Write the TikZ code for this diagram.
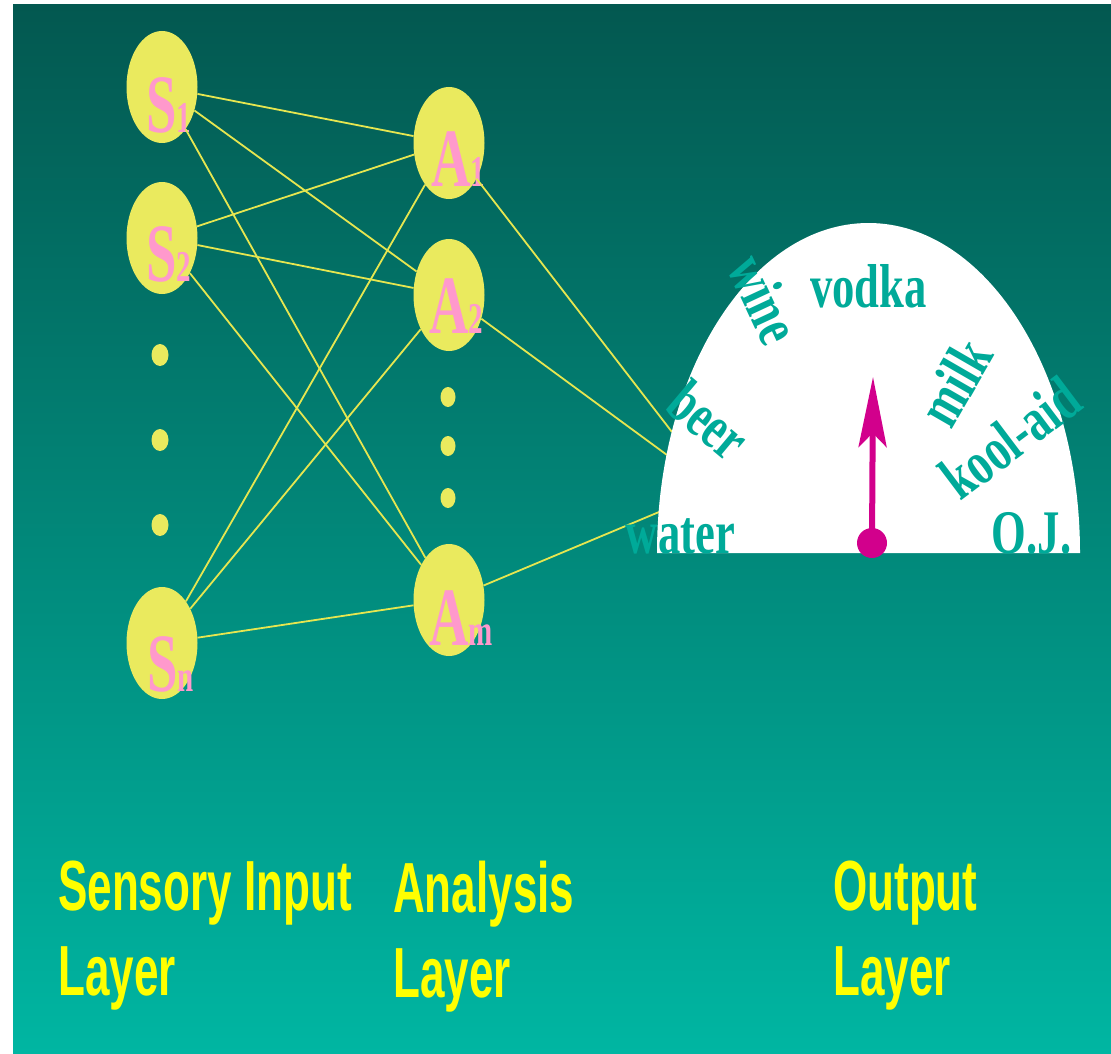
\documentclass[tikz,border=0pt]{standalone}
\usepackage{fontspec}
\usetikzlibrary{shapes.geometric,arrows.meta}
\newfontfamily\layerfont[FakeStretch=0.62]{Liberation Sans}
\newfontfamily\unitfont[FakeStretch=0.66]{Liberation Serif}
\newfontfamily\dialfont[FakeStretch=0.72]{Liberation Serif}
\definecolor{bgtop}{RGB}{3,88,80}
\definecolor{bgbot}{RGB}{0,182,162}
\definecolor{unitfill}{RGB}{234,234,94}
\definecolor{wirecol}{RGB}{230,230,80}
\definecolor{unitpink}{RGB}{255,153,204}
\definecolor{layeryellow}{RGB}{255,255,0}
\definecolor{drinkteal}{RGB}{0,170,153}
\definecolor{needlecol}{RGB}{210,0,140}
\begin{document}
\begin{tikzpicture}[x=1pt,y=-1pt,
  unit/.style={ellipse, fill=unitfill, minimum width=71pt, minimum height=112pt, inner sep=0pt},
  bigdot/.style={ellipse, fill=unitfill, minimum width=17pt, minimum height=22pt, inner sep=0pt},
  smalldot/.style={ellipse, fill=unitfill, minimum width=15pt, minimum height=20pt, inner sep=0pt},
  wire/.style={draw=wirecol, line width=1.8pt},
  unitlbl/.style={anchor=base west, inner sep=0pt, text=unitpink, font={\unitfont\bfseries\fontsize{83}{83}\selectfont}},
  drink/.style={text=drinkteal, inner sep=0pt, font={\dialfont\bfseries\fontsize{62}{62}\selectfont}},
  layerlbl/.style={anchor=north west, inner sep=0pt, align=left, text=layeryellow, font={\layerfont\bfseries\fontsize{71}{85}\selectfont}},
  needle/.style={draw=needlecol, line width=6pt, -{Stealth[length=70pt, width=28pt, inset=14pt]}}
]
\newcommand\sub[1]{{\fontsize{44}{44}\selectfont #1}}
\useasboundingbox (0,0) rectangle (1111,1054);
% backdrop
\fill[white] (0,0) rectangle (1111,1054);
\shade[top color=bgtop, bottom color=bgbot] (13,5) rectangle (1111,1054);

% sensory input units
\node[unit] (s1) at (162,87) {};
\node[unit] (s2) at (162,238) {};
\node[unit] (sn) at (162,643) {};
\node[bigdot] (sd1) at (160,355) {};
\node[bigdot] (sd2) at (160,440) {};
\node[bigdot] (sd3) at (160,525) {};

% analysis units
\node[unit] (a1) at (449,143) {};
\node[unit] (a2) at (449,295) {};
\node[unit] (am) at (449,600) {};
\node[smalldot] (ad1) at (448,397) {};
\node[smalldot] (ad2) at (448,446) {};
\node[smalldot] (ad3) at (448,498) {};

% unit labels
\node[unitlbl] (ls1) at (146,132) {S\sub{1}};
\node[unitlbl] (ls2) at (146,281) {S\sub{2}};
\node[unitlbl] (lsn) at (147,691) {S\sub{n}};
\node[unitlbl] (la1) at (431,186) {A\sub{1}};
\node[unitlbl] (la2) at (429,333) {A\sub{2}};
\node[unitlbl] (lam) at (429,645) {A\sub{m}};

% input -> analysis connections
\foreach \s in {s1,s2,sn}
  \foreach \a in {a1,a2,am}
    \draw[wire] (\s) -- (\a);

% analysis -> output connections end on the dial rim
\coordinate (r1) at (672,432);
\coordinate (r2) at (667,455);
\coordinate (r3) at (659,512);
\draw[wire] (a1) -- (r1);
\draw[wire] (a2) -- (r2);
\draw[wire] (am) -- (r3);

% output dial
\fill[white] (657,553) arc[start angle=180, end angle=0, x radius=211.5pt, y radius=330pt] -- cycle;
\node[drink, anchor=base] (vodka) at (868.5,307) {vodka};
\node[drink, anchor=base] (oj) at (1031.5,553) {O.J.};
\node[drink, anchor=base] (water) at (680.5,553) {water};
\node[drink, rotate=-65] (wine) at (765,299) {wine};
\node[drink, rotate=-40] (beer) at (709,420) {beer};
\node[drink, rotate=60] (milk) at (955,382) {milk};
\node[drink, rotate=37] (koolaid) at (1010,438) {kool-aid};

% pointer
\coordinate (pivot) at (872,543);
\coordinate (tip) at (873,377);
\draw[needle] (pivot) -- (tip);
\fill[needlecol] (pivot) circle[radius=15pt];

% layer captions
\node[layerlbl] (capin) at (58,861) {Sensory Input\\Layer};
\node[layerlbl] (capan) at (393,861) {Analysis\\Layer};
\node[layerlbl] (capout) at (833,861) {Output\\Layer};
\end{tikzpicture}
\end{document}
